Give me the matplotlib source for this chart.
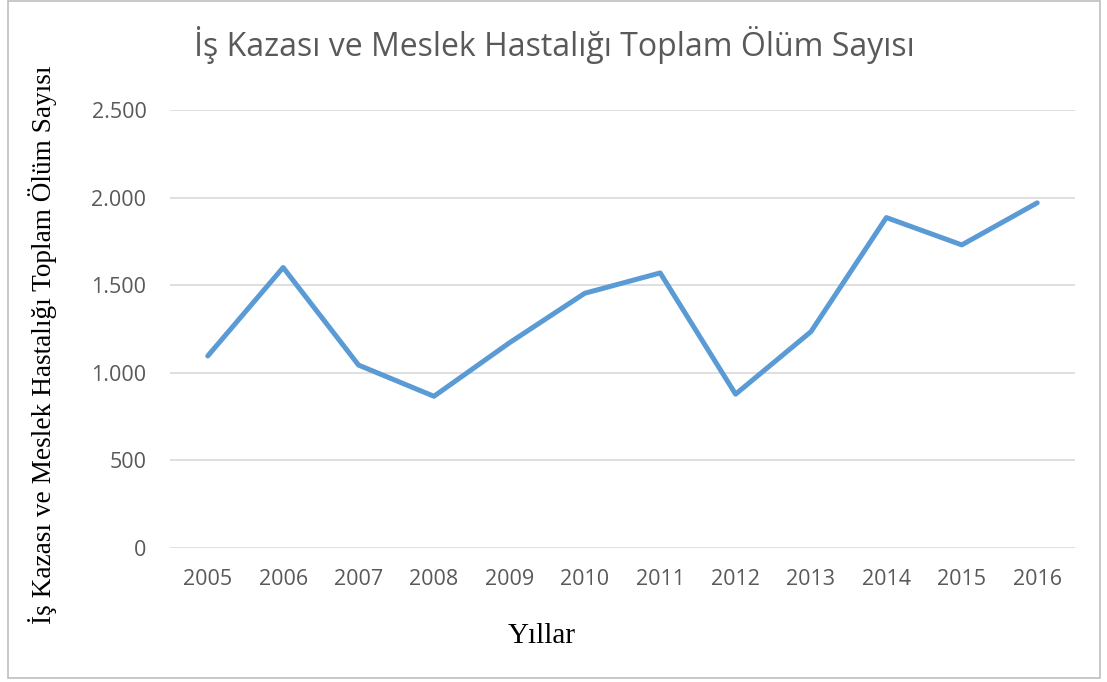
import matplotlib.pyplot as plt
from matplotlib.patches import Rectangle
from matplotlib.ticker import FuncFormatter

# Data
years = ["2005", "2006", "2007", "2008", "2009", "2010",
         "2011", "2012", "2013", "2014", "2015", "2016"]
deaths = [1096, 1601, 1044, 866, 1171, 1454, 1570, 878, 1235, 1886, 1730, 1970]
y_ticks = [0, 500, 1000, 1500, 2000, 2500]

fig = plt.figure(figsize=(11.07, 6.82), dpi=100)
ax = fig.add_axes([0.1536, 0.1965, 0.8174, 0.6422])

ax.plot(range(len(years)), deaths, color="#5B9BD5", linewidth=3.6,
        solid_capstyle="round", solid_joinstyle="round")

ax.set_xlim(-0.5, len(years) - 0.5)
ax.set_ylim(0, 2500)
ax.set_yticks(y_ticks)
# Turkish thousand separator
ax.yaxis.set_major_formatter(FuncFormatter(lambda v, p: f"{int(v):,}".replace(",", ".")))
ax.set_xticks(range(len(years)))
ax.set_xticklabels(years)

ax.grid(axis="y", color="#D9D9D9", linewidth=1.2)
ax.set_axisbelow(True)
for s in ax.spines.values():
    s.set_visible(False)
ax.tick_params(length=0, labelsize=15.5, labelcolor="#595959")
ax.tick_params(axis="x", pad=15)
ax.tick_params(axis="y", pad=17)
for lbl in ax.get_xticklabels() + ax.get_yticklabels():
    lbl.set_family("Open Sans")

fig.text(0.501, 0.934, "İş Kazası ve Meslek Hastalığı Toplam Ölüm Sayısı",
         ha="center", va="center", fontsize=23, color="#595959", family="Open Sans")
fig.text(0.038, 0.494, "İş Kazası ve Meslek Hastalığı Toplam Ölüm Sayısı",
         rotation=90, ha="center", va="center", fontsize=19.6, family="Liberation Serif")
fig.text(0.489, 0.067, "Yıllar", ha="center", va="center",
         fontsize=21, family="Liberation Serif")

# thin frame around the chart
fig.patches.append(Rectangle((8 / 1107, 4 / 682), 1092 / 1107, 677 / 682,
                             transform=fig.transFigure, fill=False,
                             edgecolor="#BFBFBF", linewidth=1.2))

fig.savefig("out.png", dpi=100)
